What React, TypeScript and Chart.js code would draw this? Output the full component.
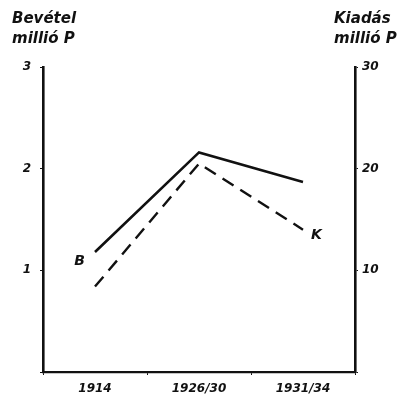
import React, { useEffect, useRef } from "react";
import { Chart, registerables } from "chart.js";

Chart.register(...registerables);

const categories = ["1914", "1926/30", "1931/34"];
const bevetel = [1.18, 2.16, 1.87]; // millió P, left axis
const kiadas = [8.4, 20.5, 14.0]; // millió P, right axis
const leftTicks = [1, 2, 3];
const rightTicks = [10, 20, 30];
const seriesLabels = ["B", "K"];

const FONT = "'DejaVu Sans', sans-serif";

const labelPlugin = {
  id: "seriesLetters",
  afterDatasetsDraw(chart: any) {
    const ctx = chart.ctx;
    ctx.save();
    ctx.fillStyle = "#111";
    ctx.font = `italic bold 14px ${FONT}`;
    ctx.textBaseline = "middle";
    const m0 = chart.getDatasetMeta(0).data;
    const m1 = chart.getDatasetMeta(1).data;
    if (m0.length) {
      const p = m0[0];
      ctx.textAlign = "right";
      ctx.fillText(seriesLabels[0], p.x - 10, p.y + 9);
    }
    if (m1.length) {
      const p = m1[m1.length - 1];
      ctx.textAlign = "left";
      ctx.fillText(seriesLabels[1], p.x + 8, p.y + 6);
    }
    ctx.restore();
  },
};

export default function App() {
  const ref = useRef<HTMLCanvasElement | null>(null);
  useEffect(() => {
    if (!ref.current) return;
    const chart = new Chart(ref.current, {
      type: "line",
      data: {
        labels: categories,
        datasets: [
          {
            label: "Bevétel",
            data: bevetel,
            yAxisID: "y",
            borderColor: "#111",
            borderWidth: 2.6,
            pointRadius: 0,
            tension: 0,
            fill: false,
          },
          {
            label: "Kiadás",
            data: kiadas,
            yAxisID: "y1",
            borderColor: "#111",
            borderWidth: 2.4,
            borderDash: [13, 8],
            pointRadius: 0,
            tension: 0,
            fill: false,
          },
        ],
      },
      options: {
        responsive: false,
        animation: false,
        devicePixelRatio: 1,
        layout: { padding: { top: 67, left: 0, right: 0, bottom: 0 } },
        plugins: { legend: { display: false }, tooltip: { enabled: false } },
        scales: {
          x: {
            offset: true,
            grid: { display: true, drawOnChartArea: false, tickLength: 3, color: "#111", offset: true },
            border: { display: true, color: "#111", width: 2.2 },
            ticks: {
              color: "#111",
              padding: 7,
              font: { family: FONT, size: 12, style: "italic", weight: "bold" },
            },
            afterFit(s: any) {
              s.height = 29;
            },
          },
          y: {
            position: "left",
            min: 0,
            max: 3,
            afterBuildTicks(s: any) {
              s.ticks = [0, ...leftTicks].map((v) => ({ value: v }));
            },
            grid: { display: true, drawOnChartArea: false, tickLength: 3, color: "#111" },
            border: { display: true, color: "#111", width: 2.6 },
            ticks: {
              color: "#111",
              padding: 9,
              callback: (v: any) => (v === 0 ? "" : String(v)),
              font: { family: FONT, size: 12, style: "italic", weight: "bold" },
            },
            afterFit(s: any) {
              s.width = 43;
            },
          },
          y1: {
            position: "right",
            min: 0,
            max: 30,
            afterBuildTicks(s: any) {
              s.ticks = [0, ...rightTicks].map((v) => ({ value: v }));
            },
            grid: { display: true, drawOnChartArea: false, tickLength: 3, color: "#111" },
            border: { display: true, color: "#111", width: 2.6 },
            ticks: {
              color: "#111",
              padding: 4,
              callback: (v: any) => (v === 0 ? "" : String(v)),
              font: { family: FONT, size: 12, style: "italic", weight: "bold" },
            },
            afterFit(s: any) {
              s.width = 56;
            },
          },
        },
      },
      plugins: [labelPlugin],
    });
    return () => chart.destroy();
  }, []);

  const titleStyle: React.CSSProperties = {
    position: "absolute",
    fontFamily: FONT,
    fontStyle: "italic",
    fontWeight: "bold",
    fontSize: 15,
    lineHeight: "20px",
    color: "#111",
    whiteSpace: "nowrap",
  };

  return (
    <div style={{ position: "absolute", left: 0, top: 0, width: 411, height: 401, background: "#fff" }}>
      <canvas ref={ref} width={411} height={401} style={{ width: 411, height: 401, display: "block" }} />
      <div style={{ ...titleStyle, left: 12, top: 8 }}>
        Bevétel
        <br />
        millió P
      </div>
      <div style={{ ...titleStyle, left: 334, top: 8 }}>
        Kiadás
        <br />
        millió P
      </div>
    </div>
  );
}
